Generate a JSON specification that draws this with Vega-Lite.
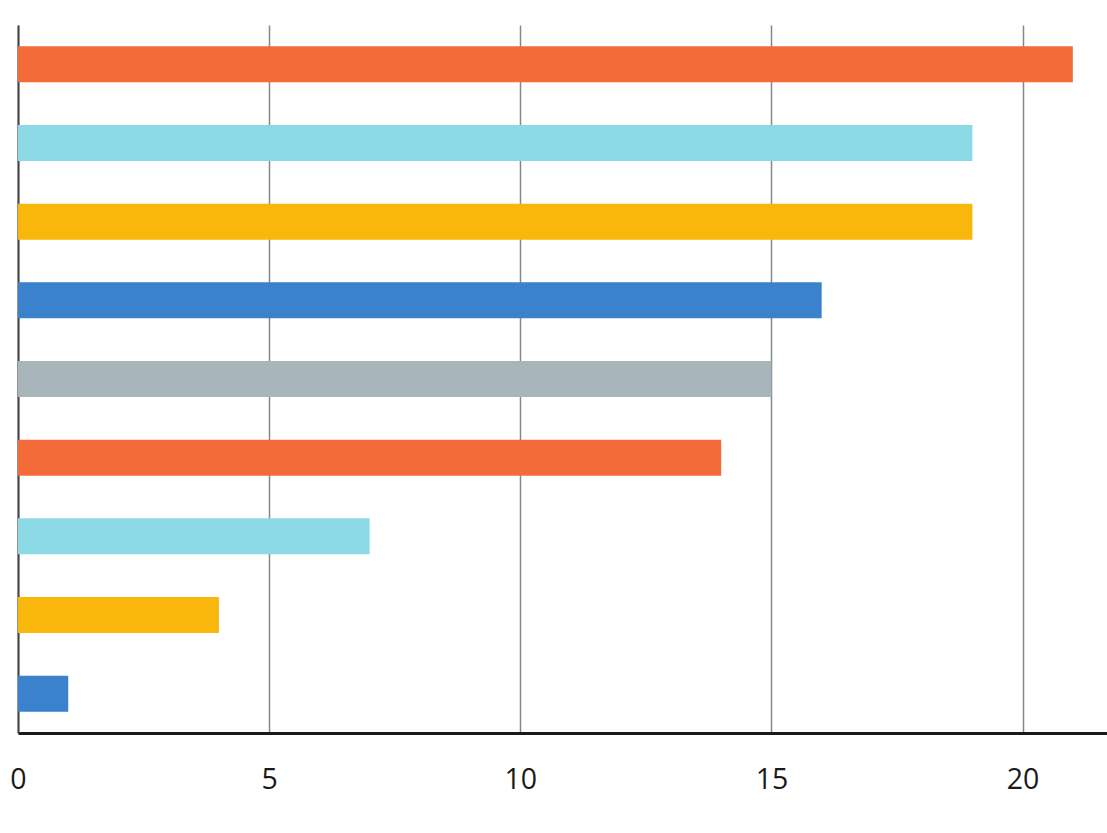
{
  "$schema": "https://vega.github.io/schema/vega-lite/v6.json",
  "width": 1089,
  "height": 708,
  "autosize": {"type": "none"},
  "padding": {"left": 18, "top": 25, "right": 0, "bottom": 100},
  "background": "white",
  "config": {"view": {"stroke": null}},
  "data": {
    "values": [
      {"item": "1", "value": 21},
      {"item": "2", "value": 19},
      {"item": "3", "value": 19},
      {"item": "4", "value": 16},
      {"item": "5", "value": 15},
      {"item": "6", "value": 14},
      {"item": "7", "value": 7},
      {"item": "8", "value": 4},
      {"item": "9", "value": 1}
    ]
  },
  "mark": {"type": "bar", "cornerRadius": 0},
  "encoding": {
    "y": {
      "field": "item",
      "type": "nominal",
      "sort": null,
      "scale": {"paddingInner": 0.542, "paddingOuter": 0.271},
      "axis": {
        "title": null,
        "labels": false,
        "ticks": false,
        "grid": false,
        "domain": true,
        "domainColor": "#444444",
        "domainWidth": 2
      }
    },
    "x": {
      "field": "value",
      "type": "quantitative",
      "scale": {"domain": [0, 21.68], "nice": false, "zero": true},
      "axis": {
        "title": null,
        "values": [0, 5, 10, 15, 20],
        "grid": true,
        "gridColor": "#858888",
        "gridWidth": 1.5,
        "ticks": false,
        "tickSize": 0,
        "domain": true,
        "domainColor": "#1a1a1a",
        "domainWidth": 3.2,
        "labelFont": "Open Sans",
        "labelFontSize": 28.5,
        "labelColor": "#1a1a1a",
        "labelBaseline": "alphabetic",
        "labelPadding": 55,
        "labelFlush": false,
        "labelAlign": "center"
      }
    },
    "color": {
      "field": "item",
      "type": "nominal",
      "legend": null,
      "scale": {
        "domain": ["1", "2", "3", "4", "5", "6", "7", "8", "9"],
        "range": ["#F46B3A", "#8BD9E5", "#F8B70A", "#3A82CC", "#A8B5BA", "#F46B3A", "#8BD9E5", "#F8B70A", "#3A82CC"]
      }
    }
  }
}
